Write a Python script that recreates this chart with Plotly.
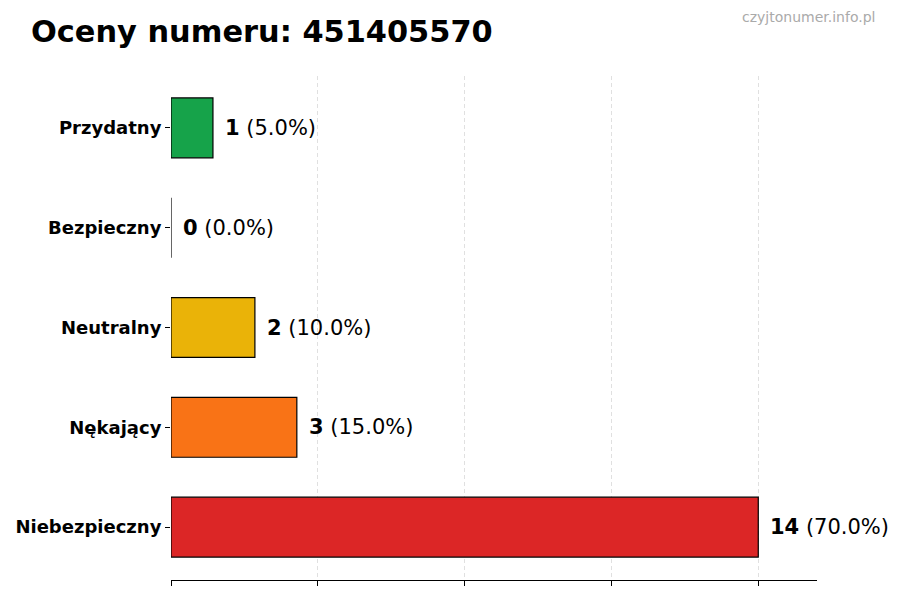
import plotly.graph_objects as go

categories = ["Niebezpieczny", "Nękający", "Neutralny", "Bezpieczny", "Przydatny"]
counts = [14, 3, 2, 0, 1]
percents = [70.0, 15.0, 10.0, 0.0, 5.0]
colors = ["#dc2626", "#f97316", "#eab308", "#9ca3af", "#16a34a"]
grid_ticks = [0, 3.5, 7, 10.5, 14]

font = "DejaVu Sans"

fig = go.Figure()
fig.add_trace(go.Bar(
    x=counts,
    y=categories,
    orientation="h",
    width=0.6,
    marker=dict(color=colors, line=dict(color="black", width=1.2)),
    hoverinfo="skip",
))

# value labels next to bars
for c, n, p in zip(categories, counts, percents):
    fig.add_annotation(
        x=n, y=c, xref="x", yref="y",
        text=f"<b>{n}</b> ({p:.1f}%)",
        showarrow=False, xanchor="left", yanchor="middle",
        xshift=10,
        font=dict(family=font, size=21, color="black"),
    )

# plot area is 171..817 x 76..580 px on the page
fig.add_annotation(
    x=(29 - 171) / 646, y=(580 - 31) / 504, xref="paper", yref="paper",
    text="<b>Oceny numeru: 451405570</b>",
    showarrow=False, xanchor="left", yanchor="middle",
    font=dict(family=font, size=30.4, color="black"),
)
fig.add_annotation(
    x=(877 - 171) / 646, y=(580 - 17) / 504, xref="paper", yref="paper",
    text="czyjtonumer.info.pl",
    showarrow=False, xanchor="right", yanchor="middle",
    font=dict(family=font, size=14, color="#aaaaaa"),
)

# page body has an 8px margin, so margins are shifted by 8
fig.update_layout(
    width=900, height=600,
    margin=dict(l=163, r=91, t=68, b=28, autoexpand=False),
    plot_bgcolor="white", paper_bgcolor="white",
    showlegend=False,
)

fig.update_xaxes(
    range=[0, 15.4],
    tickvals=grid_ticks, showticklabels=False,
    ticks="outside", ticklen=5, tickcolor="black",
    showgrid=True, gridcolor="#e0e0e0", griddash="4px,3px", gridwidth=1,
    showline=True, linecolor="black", linewidth=1.2,
    zeroline=False, fixedrange=True, automargin=False,
)
fig.update_yaxes(
    range=[-0.53, 4.52],
    categoryorder="array", categoryarray=categories,
    ticks="outside", ticklen=5, tickcolor="black",
    tickfont=dict(family=font, size=18, color="black", weight="bold"),
    showgrid=False, showline=False, zeroline=False, automargin=False,
)

fig.write_html("out.html")
